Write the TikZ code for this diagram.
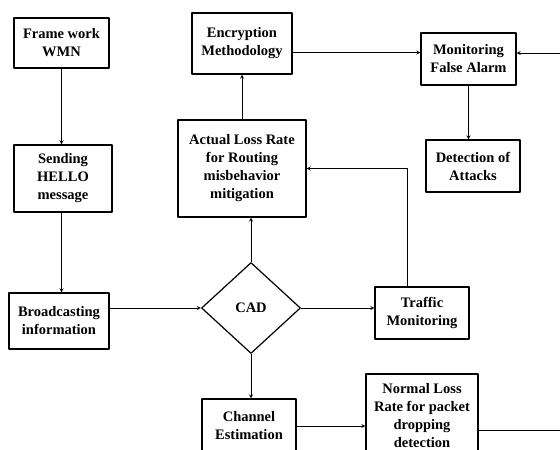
\documentclass[tikz,border=0pt]{standalone}
\usepackage{fontspec}
\setmainfont{Liberation Serif}
\usetikzlibrary{shapes.geometric}
\begin{document}
\begin{tikzpicture}[x=1pt,y=-1pt,line join=round,>=stealth]
	\tikzset{box/.style={draw,line width=1.2pt,align=center,inner sep=1pt,font=\bfseries\fontsize{14.5}{18}\selectfont},
		link/.style={->,line width=0.8pt}}
	\useasboundingbox (0,0) rectangle (560,450);
	\clip (0,0) rectangle (560,450);
	\node[box,minimum width=95pt,minimum height=50pt] (frm) at (61.5,43) {Frame work\\WMN};
	\node[box,minimum width=98pt,minimum height=67pt] (snd) at (63,178.5) {Sending\\HELLO\\message};
	\node[box,minimum width=100pt,minimum height=56pt] (brd) at (59,321) {Broadcasting\\information};
	\node[box,minimum width=100pt,minimum height=61pt] (enc) at (242,43.5) {Encryption\\Methodology};
	\node[box,minimum width=128pt,minimum height=97pt] (act) at (242,168.5) {Actual Loss Rate\\for Routing\\misbehavior\\mitigation};
	\node[box,minimum width=95pt,minimum height=52pt] (mon) at (468.5,59) {Monitoring\\False Alarm};
	\node[box,minimum width=94pt,minimum height=52pt] (det) at (473,166) {Detection of\\Attacks};
	\node[box,shape=diamond,minimum width=99pt,minimum height=91pt,inner sep=0pt] (cad) at (251,308) {CAD};
	\node[box,minimum width=94pt,minimum height=52pt] (tra) at (422,313) {Traffic\\Monitoring};
	\node[box,minimum width=94pt,minimum height=54pt] (cha) at (249,426) {Channel\\Estimation};
	\node[box,minimum width=112pt,minimum height=83pt] (nor) at (422,415.5) {Normal Loss\\Rate for packet\\dropping\\detection};
	\coordinate (edgeR) at (560,53);
	\coordinate (edgeB) at (560,430);
	\draw[link] (frm.south) -- (frm.south |- snd.north);
	\draw[link] (snd.south -| frm.south) -- (frm.south |- brd.north);
	\draw[link] (brd.east |- cad.west) -- (cad.west);
	\draw[link] (cad.north) -- (cad.north |- act.south);
	\draw[link] (act.north) -- (enc.south);
	\draw[link] ([yshift=-9pt]enc.east) -- ([yshift=-9pt]enc.east -| mon.west);
	\draw[link] (edgeR) -- (edgeR -| mon.east);
	\draw[link] (mon.south) -- (mon.south |- det.north);
	\draw[link] (cad.east) -- (cad.east -| tra.west);
	\draw[link] ([xshift=-15pt]tra.north) |- (act.east);
	\draw[link] (cad.south) -- (cad.south |- cha.north);
	\draw[link] (cha.east) -- (cha.east -| nor.west);
	\draw[line width=0.8pt] (nor.east |- edgeB) -- (edgeB);
\end{tikzpicture}
\end{document}
